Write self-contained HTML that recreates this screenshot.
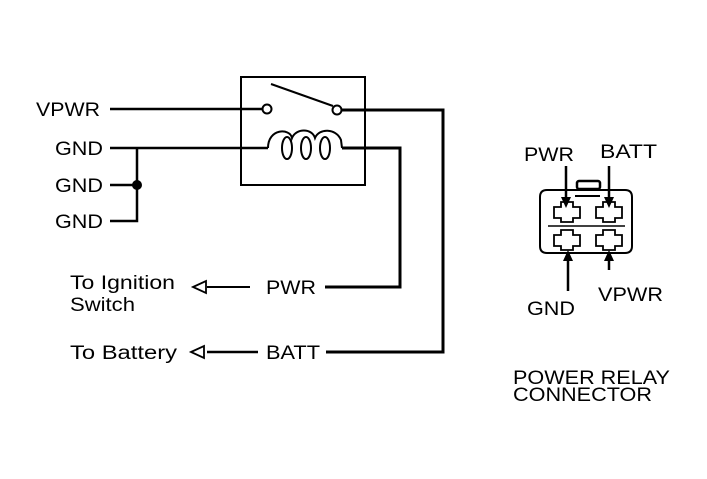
<!DOCTYPE html>
<html><head><style>
html,body{margin:0;padding:0;background:#fff;}
svg{display:block}
text{font-family:"Liberation Sans",sans-serif;font-size:19px;fill:#000}
</style></head><body>
<svg width="707" height="479" viewBox="0 0 707 479" xmlns="http://www.w3.org/2000/svg">
<g stroke="#000" fill="none" stroke-width="2.5">
<rect x="241" y="77" width="124" height="108" stroke-width="2"/>
<line x1="110" y1="109" x2="262" y2="109"/>
<circle cx="267" cy="109" r="4.5" stroke-width="2"/>
<circle cx="337" cy="110" r="4.5" stroke-width="2"/>
<line x1="271" y1="84" x2="333" y2="106" stroke-width="2"/>
<polyline points="342,110 443,110 443,352 326,352" stroke-width="3"/>
<line x1="110" y1="148" x2="268" y2="148"/>
<path d="M268,148 C268,128 290,128 292,138 C296,128 312,128 315,138 C319,128 336,128 341,140 L342,148" stroke-width="2"/>
<ellipse cx="287" cy="148" rx="5" ry="11" stroke-width="2"/>
<ellipse cx="306" cy="148" rx="5" ry="11" stroke-width="2"/>
<ellipse cx="325" cy="148" rx="5" ry="11" stroke-width="2"/>
<polyline points="342,148 400,148 400,287 325,287" stroke-width="3"/>
<polyline points="137,148 137,221 110,221"/>
<line x1="110" y1="185" x2="137" y2="185"/>
<line x1="207" y1="287" x2="250" y2="287" stroke-width="2"/>
<line x1="207" y1="352" x2="258" y2="352"/>
<polygon points="193,287 206,281 206,293" stroke-width="1.8"/>
<polygon points="191,352 204,346 204,358" stroke-width="1.8"/>
<path d="M547,190 L625,190 Q632,190 632,197 L632,246 Q632,253 625,253 L547,253 Q540,253 540,246 L540,197 Q540,190 547,190 Z" stroke-width="2"/>
<rect x="577" y="181" width="23" height="8" rx="2" stroke-width="2.5"/>
<line x1="575" y1="196" x2="600" y2="196" stroke-width="2"/>
<line x1="548" y1="226" x2="625" y2="226" stroke-width="1.5"/>
<g stroke-width="1.8">
<path d="M561,202 h12 v5 h7 v11 h-7 v4 h-12 v-4 h-7 v-11 h7 z"/>
<path d="M603,202 h12 v5 h7 v11 h-7 v4 h-12 v-4 h-7 v-11 h7 z"/>
<path d="M561,230 h12 v5 h7 v11 h-7 v4 h-12 v-4 h-7 v-11 h7 z"/>
<path d="M603,230 h12 v5 h7 v11 h-7 v4 h-12 v-4 h-7 v-11 h7 z"/>
</g>
<line x1="566" y1="166" x2="566" y2="200"/>
<line x1="609" y1="166" x2="609" y2="200"/>
<line x1="568" y1="258" x2="568" y2="291"/>
<line x1="609" y1="258" x2="609" y2="270"/>
</g>
<circle cx="137" cy="185" r="5" fill="#000"/>
<g fill="#000">
<polygon points="566,208 561,197 571,197"/>
<polygon points="609,208 604,197 614,197"/>
<polygon points="568,250 563,261 573,261"/>
<polygon points="609,250 604,261 614,261"/>
</g>
<text x="36" y="116" textLength="64" lengthAdjust="spacingAndGlyphs">VPWR</text>
<text x="55" y="155" textLength="48" lengthAdjust="spacingAndGlyphs">GND</text>
<text x="55" y="192" textLength="48" lengthAdjust="spacingAndGlyphs">GND</text>
<text x="55" y="228" textLength="48" lengthAdjust="spacingAndGlyphs">GND</text>
<text x="70" y="289" textLength="105" lengthAdjust="spacingAndGlyphs">To Ignition</text>
<text x="70" y="311" textLength="65" lengthAdjust="spacingAndGlyphs">Switch</text>
<text x="70" y="359" textLength="107" lengthAdjust="spacingAndGlyphs">To Battery</text>
<text x="266" y="294" textLength="50" lengthAdjust="spacingAndGlyphs">PWR</text>
<text x="266" y="359" textLength="54" lengthAdjust="spacingAndGlyphs">BATT</text>
<text x="524" y="161" textLength="50" lengthAdjust="spacingAndGlyphs">PWR</text>
<text x="600" y="158" textLength="57" lengthAdjust="spacingAndGlyphs">BATT</text>
<text x="527" y="315" textLength="48" lengthAdjust="spacingAndGlyphs">GND</text>
<text x="598" y="301" textLength="65" lengthAdjust="spacingAndGlyphs">VPWR</text>
<text x="513" y="384" textLength="157" lengthAdjust="spacingAndGlyphs">POWER RELAY</text>
<text x="513" y="401" textLength="139" lengthAdjust="spacingAndGlyphs">CONNECTOR</text>
</svg>
</body></html>
